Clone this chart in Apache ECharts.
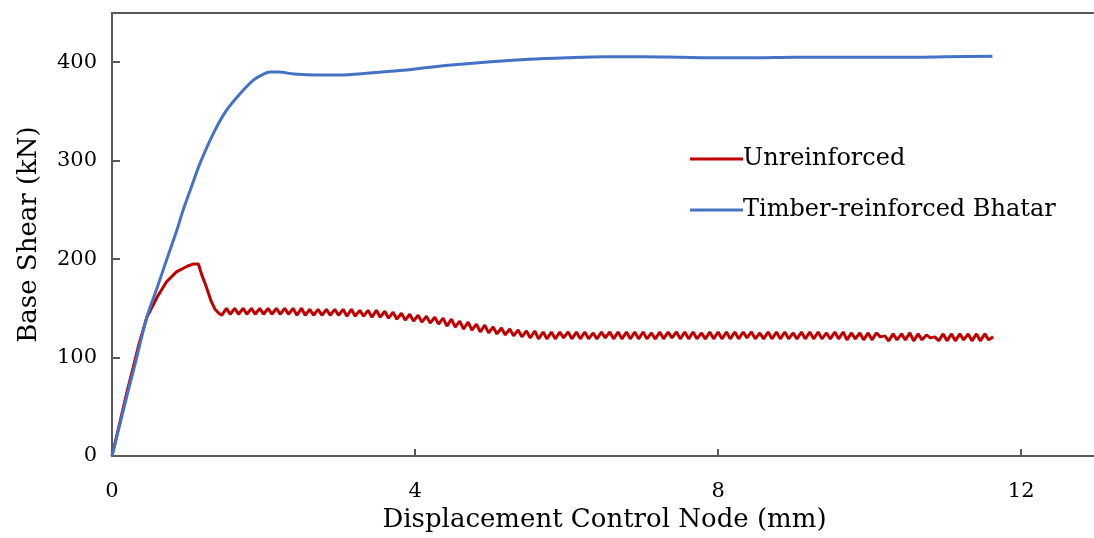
<!DOCTYPE html>
<html>
<head>
<meta charset="UTF-8">
<title>Base shear</title>
<style>
  * { margin: 0; padding: 0; }
  body { background: #fff; }
  #main { width: 1094px; height: 538px; }
</style>
<script src="https://cdn.jsdelivr.net/npm/echarts@6/dist/echarts.min.js"></script>
</head>
<body>
<div id="main"></div>
<script>
// Timber-reinforced Bhatar (blue)
var blueX = [0, 0.1, 0.2, 0.3, 0.46, 0.6, 0.72, 0.85, 0.94, 1.07, 1.16, 1.34, 1.51, 1.69, 1.87, 2.0, 2.09, 2.2, 2.4, 2.7,
  3.0, 3.4, 3.8, 4.2, 4.6, 5.0, 5.5, 6.0, 6.5, 7.0, 7.5, 8.0, 8.5, 9.0, 9.5, 10.0, 10.5, 11.0, 11.62];
var blueY = [0, 31, 62, 92, 141, 172, 199, 228, 250, 278, 297, 328, 351, 368, 382, 388, 390, 390, 388, 387,
  387, 389, 391.5, 395, 398, 400.5, 403, 404.5, 405.5, 405.5, 405, 404.5, 404.5, 405, 405, 405, 405, 405.5, 406];

// Unreinforced (red): rise to peak and drop
var redRiseX = [0, 0.1, 0.2, 0.28, 0.35, 0.46, 0.6, 0.72, 0.85, 1.0, 1.07, 1.14, 1.18, 1.23, 1.27, 1.31, 1.36, 1.41];
var redRiseY = [0, 33, 66, 90, 112, 141, 162, 177, 187, 193, 195, 195, 185, 175, 166, 157, 149, 145];

// Unreinforced (red): saw-tooth plateau
var redWaveX = [
  1.45,1.51,1.56,1.62,1.67,1.73,1.78,1.84,1.89,1.95,2.00,2.06,2.11,2.17,2.22,2.28,2.33,2.39,2.44,2.50,
  2.55,2.61,2.66,2.72,2.77,2.83,2.88,2.94,2.99,3.05,3.10,3.16,3.21,3.27,3.32,3.38,3.43,3.49,3.54,3.60,
  3.65,3.71,3.76,3.82,3.87,3.93,3.98,4.04,4.09,4.15,4.20,4.26,4.31,4.37,4.42,4.48,4.53,4.59,4.64,4.70,
  4.75,4.81,4.86,4.92,4.97,5.03,5.08,5.14,5.19,5.25,5.30,5.36,5.41,5.47,5.52,5.58,5.63,5.69,5.74,5.80,
  5.85,5.91,5.96,6.02,6.07,6.13,6.18,6.24,6.29,6.35,6.40,6.46,6.51,6.57,6.62,6.68,6.73,6.79,6.84,6.90,
  6.95,7.01,7.06,7.12,7.17,7.23,7.28,7.34,7.39,7.45,7.50,7.56,7.61,7.67,7.72,7.78,7.83,7.89,7.94,8.00,
  8.05,8.11,8.16,8.22,8.27,8.33,8.38,8.44,8.49,8.55,8.60,8.66,8.71,8.77,8.82,8.88,8.93,8.99,9.04,9.10,
  9.15,9.21,9.26,9.32,9.37,9.43,9.48,9.54,9.59,9.65,9.70,9.76,9.81,9.87,9.92,9.98,10.03,10.09,10.14,10.20,
  10.25,10.31,10.36,10.42,10.47,10.53,10.58,10.64,10.69,10.75,10.80,10.86,10.91,10.97,11.02,11.08,11.13,11.19,11.24,11.30,
  11.35,11.41,11.46,11.52,11.57,11.63];
var redWaveY = [
  143,150, 144,150, 144,150, 144,150, 144,150, 144,150, 144,150, 144,150, 144,150, 143,150,
  143,149, 143,149, 143,149, 143,149, 143,149, 142,149, 142,148, 142,148, 141,148, 141,147,
  140,146, 139,145, 138,144, 137,143, 136,142, 135,141, 134,140, 132,139, 131,137, 129,136,
  128,134, 126,133, 125,131, 124,130, 123,129, 122,128, 121,127, 120,127, 119,126, 119,126,
  119,126, 120,126, 119,126, 119,126, 119,125, 119,126, 120,126, 119,126, 119,126, 119,126,
  119,126, 119,125, 119,126, 119,126, 120,126, 119,126, 119,126, 119,125, 119,126, 119,126,
  119,126, 119,126, 119,126, 120,126, 119,125, 119,126, 119,126, 119,126, 119,125, 119,126,
  119,126, 119,126, 119,125, 119,126, 119,126, 118,125, 119,125, 118,125, 118,125, 121,122,
  117,124, 118,124, 118,125, 117,124, 118,123, 120,121, 117,124, 117,124, 117,124, 118,124,
  117,124, 117,124, 118,121];

var xTicks = [0, 4, 8, 12];
var yTicks = [0, 100, 200, 300, 400];

function pairs(xs, ys) {
  return xs.map(function (x, i) { return [x, ys[i]]; });
}

var FONT = 'DejaVu Serif';
var AXIS = '#595959';

var myChart = echarts.init(document.getElementById('main'));
var option = {
  animation: false,
  backgroundColor: '#fff',
  textStyle: { fontFamily: FONT },
  grid: {
    left: 112, top: 13, width: 985, height: 443,
    outerBoundsMode: 'none', containLabel: false,
    show: true, borderColor: AXIS, borderWidth: 2
  },
  legend: {
    orient: 'vertical',
    left: 685, top: 142,
    itemWidth: 53, itemHeight: 3, itemGap: 27,
    icon: 'rect',
    textStyle: { fontFamily: FONT, fontSize: 24, color: '#000', padding: [0, 0, 0, -5] },
    data: ['Unreinforced', 'Timber-reinforced Bhatar']
  },
  xAxis: {
    type: 'value', min: 0, max: 13, interval: 4,
    name: 'Displacement Control Node (mm)',
    nameLocation: 'middle', nameGap: 49,
    nameTextStyle: { fontFamily: FONT, fontSize: 26, color: '#000' },
    axisLine: { show: true, lineStyle: { color: AXIS, width: 2 } },
    axisTick: { show: true, inside: true, length: 7, lineStyle: { color: AXIS, width: 2 } },
    axisLabel: {
      margin: 25, fontFamily: FONT, fontSize: 21, color: '#000',
      formatter: function (v) { return xTicks.indexOf(v) >= 0 ? String(v) : ''; }
    },
    splitLine: { show: false }
  },
  yAxis: {
    type: 'value', min: 0, max: 450, interval: 100,
    name: 'Base Shear (kN)',
    nameLocation: 'middle', nameGap: 70,
    nameTextStyle: { fontFamily: FONT, fontSize: 26, color: '#000' },
    axisLine: { show: true, lineStyle: { color: AXIS, width: 2 } },
    axisTick: { show: true, inside: true, length: 8, lineStyle: { color: AXIS, width: 2 } },
    axisLabel: {
      margin: 15, fontFamily: FONT, fontSize: 21, color: '#000',
      formatter: function (v) { return yTicks.indexOf(v) >= 0 ? String(v) : ''; }
    },
    splitLine: { show: false }
  },
  series: [
    {
      name: 'Unreinforced',
      type: 'line',
      showSymbol: false,
      color: '#C00000',
      lineStyle: { color: '#C00000', width: 3 },
      data: pairs(redRiseX.concat(redWaveX), redRiseY.concat(redWaveY))
    },
    {
      name: 'Timber-reinforced Bhatar',
      type: 'line',
      showSymbol: false,
      smooth: 0.3,
      color: '#4472C4',
      lineStyle: { color: '#4472C4', width: 3 },
      data: pairs(blueX, blueY)
    }
  ]
};
myChart.setOption(option);
</script>
</body>
</html>
